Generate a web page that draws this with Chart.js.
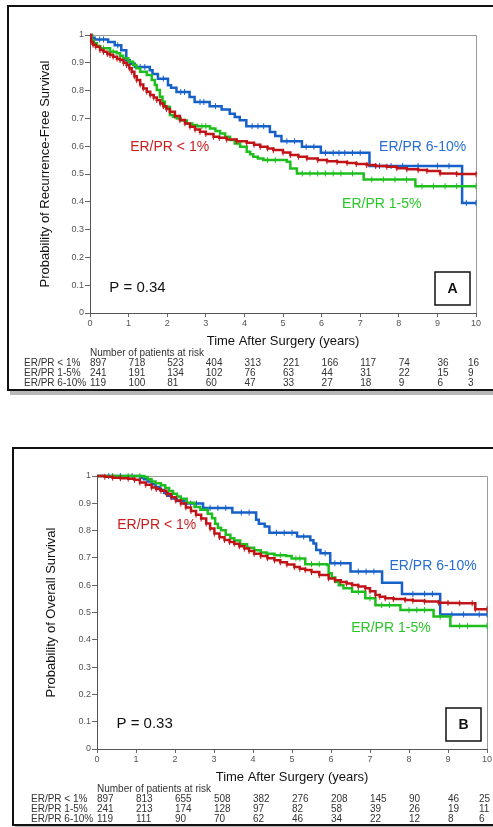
<!DOCTYPE html>
<html>
<head>
<meta charset="utf-8">
<script src="https://cdn.jsdelivr.net/npm/chart.js@4.4.1/dist/chart.umd.min.js"></script>
<style>
html, body { margin: 0; padding: 0; background: #fff; }
#page { position: relative; width: 493px; height: 827px; overflow: hidden; background: #fff; }
.frame { position: absolute; border: 2px solid #111; box-shadow: 3px 4px 0 #b8b8b8; }
#frameA { left: 7px; top: 5px; width: 520px; height: 382px; }
#frameB { left: 12px; top: 447px; width: 520px; height: 375px; }
canvas { position: absolute; left: 0; }
#chartA { top: 0; }
#chartB { top: 400px; }
</style>
</head>
<body>
<div id="page">
  <div class="frame" id="frameA"></div>
  <div class="frame" id="frameB"></div>
  <canvas id="chartA" width="520" height="400"></canvas>
  <canvas id="chartB" width="520" height="427"></canvas>
</div>
<script>
var years = [0, 1, 2, 3, 4, 5, 6, 7, 8, 9, 10];
var groupNames = ['ER/PR < 1%', 'ER/PR 1-5%', 'ER/PR 6-10%'];

// panel A - recurrence-free survival, [years, probability]
var rfsLow = [[0,1],[0.03,.975],[0.08,.965],[0.15,.958],[0.26,.946],[0.35,.94],[0.45,.932],[0.52,.928],[0.6,.922],[0.7,.915],[0.78,.91],[0.87,.9],[0.95,.892],[1.02,.88],[1.08,.868],[1.15,.852],[1.21,.838],[1.3,.822],[1.38,.808],[1.47,.796],[1.56,.784],[1.65,.775],[1.73,.766],[1.82,.754],[1.9,.744],[1.98,.734],[2.07,.724],[2.2,.709],[2.33,.694],[2.46,.682],[2.59,.67],[2.72,.66],[2.85,.652],[3.0,.644],[3.2,.634],[3.35,.63],[3.54,.624],[3.8,.618],[4.06,.612],[4.25,.605],[4.41,.598],[4.6,.592],[4.75,.586],[5.0,.577],[5.19,.568],[5.4,.562],[5.62,.556],[5.9,.55],[6.14,.546],[6.4,.543],[6.66,.54],[6.9,.536],[7.17,.532],[7.4,.529],[7.69,.526],[7.95,.521],[8.21,.517],[8.5,.514],[8.73,.511],[9.07,.502],[9.5,.5],[10,.499]];
var rfsMid = [[0,1],[0.05,.98],[0.1,.97],[0.18,.96],[0.26,.952],[0.35,.952],[0.52,.94],[0.6,.94],[0.69,.934],[0.78,.925],[0.86,.916],[0.99,.904],[1.12,.892],[1.2,.88],[1.3,.868],[1.47,.856],[1.6,.838],[1.68,.82],[1.73,.802],[1.81,.778],[1.88,.76],[1.94,.742],[2.07,.712],[2.15,.706],[2.25,.7],[2.35,.692],[2.51,.682],[2.65,.676],[2.77,.672],[2.9,.672],[3.0,.672],[3.11,.664],[3.25,.655],[3.37,.646],[3.5,.634],[3.63,.622],[3.75,.61],[3.89,.598],[4.06,.58],[4.15,.571],[4.23,.562],[4.35,.556],[4.49,.55],[4.6,.55],[4.8,.55],[5.1,.544],[5.19,.52],[5.36,.502],[5.5,.502],[5.7,.502],[5.9,.502],[6.1,.502],[6.3,.502],[6.5,.502],[6.8,.502],[7.09,.48],[7.3,.48],[7.6,.48],[7.9,.48],[8.2,.48],[8.43,.456],[8.6,.456],[8.9,.456],[9.2,.456],[9.5,.456],[10,.456]];
var rfsHigh = [[0,1],[0.05,.99],[0.12,.984],[0.25,.984],[0.35,.984],[0.47,.975],[0.64,.963],[0.72,.963],[0.81,.945],[0.94,.909],[1.03,.897],[1.16,.885],[1.3,.885],[1.42,.885],[1.55,.873],[1.62,.86],[1.76,.843],[1.9,.843],[2.02,.819],[2.1,.81],[2.24,.795],[2.35,.795],[2.45,.795],[2.58,.777],[2.71,.759],[2.85,.759],[2.95,.759],[3.1,.744],[3.25,.744],[3.41,.732],[3.62,.717],[3.75,.705],[3.88,.693],[4.05,.672],[4.2,.672],[4.35,.672],[4.5,.672],[4.66,.651],[4.8,.637],[4.96,.618],[5.1,.618],[5.3,.618],[5.49,.598],[5.6,.598],[5.8,.598],[5.98,.576],[6.1,.576],[6.3,.576],[6.45,.576],[6.6,.576],[6.8,.576],[7.0,.576],[7.24,.529],[7.5,.529],[7.8,.529],[8.1,.529],[8.5,.529],[9.0,.529],[9.3,.529],[9.64,.396],[9.75,.396],[10,.396]];
var rfsRiskLow = [897, 718, 523, 404, 313, 221, 166, 117, 74, 36, 16];
var rfsRiskMid = [241, 191, 134, 102, 76, 63, 44, 31, 22, 15, 9];
var rfsRiskHigh = [119, 100, 81, 60, 47, 33, 27, 18, 9, 6, 3];

// panel B - overall survival
var osLow = [[0,1],[0.2,.997],[0.4,.994],[0.6,.992],[0.8,.99],[0.96,.986],[1.1,.976],[1.25,.968],[1.4,.958],[1.52,.952],[1.64,.946],[1.78,.934],[1.9,.922],[2.02,.91],[2.15,.899],[2.28,.885],[2.41,.872],[2.54,.858],[2.67,.844],[2.8,.826],[2.9,.808],[3.01,.789],[3.14,.776],[3.27,.766],[3.4,.758],[3.52,.752],[3.65,.743],[3.78,.734],[3.9,.725],[4.03,.715],[4.2,.707],[4.37,.699],[4.55,.691],[4.7,.684],[4.87,.676],[5.06,.667],[5.2,.66],[5.34,.656],[5.5,.648],[5.7,.637],[5.94,.625],[6.1,.618],[6.25,.612],[6.4,.606],[6.54,.601],[6.7,.595],[6.88,.589],[7.0,.578],[7.14,.564],[7.25,.558],[7.39,.552],[7.6,.549],[7.9,.546],[8.1,.543],[8.4,.54],[8.76,.536],[9.0,.535],[9.3,.534],[9.62,.534],[9.7,.512],[10,.512]];
var osMid = [[0,1],[0.4,1],[0.8,1],[1.1,1],[1.21,.996],[1.3,.988],[1.4,.98],[1.5,.973],[1.64,.966],[1.75,.956],[1.85,.945],[1.95,.935],[2.05,.925],[2.15,.917],[2.3,.902],[2.5,.886],[2.65,.876],[2.84,.862],[2.95,.845],[3.03,.825],[3.1,.81],[3.18,.801],[3.3,.785],[3.42,.772],[3.52,.764],[3.67,.75],[3.85,.737],[4.03,.728],[4.2,.72],[4.35,.715],[4.55,.71],[4.7,.71],[4.85,.707],[4.99,.698],[5.1,.698],[5.2,.698],[5.34,.677],[5.5,.677],[5.7,.677],[5.9,.674],[5.94,.644],[6.02,.628],[6.11,.613],[6.2,.6],[6.32,.589],[6.54,.576],[6.7,.576],[6.88,.552],[7.0,.552],[7.14,.527],[7.3,.527],[7.5,.527],[7.78,.509],[8.0,.509],[8.2,.509],[8.4,.509],[8.63,.485],[8.8,.485],[9.06,.451],[9.3,.451],[9.5,.451],[10,.451]];
var osHigh = [[0,1],[0.3,1],[0.6,1],[0.9,1],[1.11,.994],[1.2,.988],[1.3,.98],[1.4,.97],[1.5,.96],[1.62,.949],[1.72,.938],[1.82,.928],[1.92,.918],[2.05,.908],[2.24,.899],[2.4,.899],[2.55,.899],[2.72,.883],[2.9,.883],[3.1,.883],[3.3,.883],[3.47,.866],[3.7,.866],[3.9,.866],[4.08,.84],[4.15,.825],[4.3,.815],[4.42,.792],[4.6,.792],[4.8,.792],[5.0,.792],[5.13,.778],[5.3,.778],[5.47,.765],[5.55,.753],[5.62,.729],[5.73,.717],[5.85,.717],[5.98,.68],[6.1,.68],[6.25,.68],[6.5,.65],[6.7,.65],[6.9,.65],[7.1,.65],[7.31,.609],[7.82,.568],[8.1,.568],[8.4,.568],[8.6,.568],[8.8,.493],[9.1,.493],[9.4,.493],[9.8,.493],[10,.493]];
var osRiskLow = [897, 813, 655, 508, 382, 276, 208, 145, 90, 46, 25];
var osRiskMid = [241, 213, 174, 128, 97, 82, 58, 39, 26, 19, 11];
var osRiskHigh = [119, 111, 90, 70, 62, 46, 34, 22, 12, 8, 6];

var red = 'rgb(192, 20, 24)';
var green = 'rgb(30, 190, 30)';
var blue = 'rgb(22, 96, 200)';
var font = 'Liberation Sans';

function toPoints(arr) {
    return arr.map(function (p) { return { x: p[0], y: p[1] }; });
}

// censor ticks: where the curve does not drop (red has so many they are everywhere)
function censorRadius(ctx) {
    var d = ctx.dataset.data, i = ctx.dataIndex;
    if (i === 0) return 0;
    if (ctx.dataset.markAll) return 3;
    return d[i].y === d[i - 1].y ? 3 : 0;
}

function curve(arr, color, markAll) {
    return {
        data: toPoints(arr),
        borderColor: color,
        backgroundColor: color,
        borderWidth: 2.5,
        stepped: true,
        fill: false,
        clip: 5,
        markAll: markAll,
        pointStyle: 'line',
        rotation: 90,
        pointRadius: censorRadius,
        pointBorderWidth: 1,
        pointBorderColor: color,
        pointHoverRadius: 0
    };
}

var kmExtras = {
    id: 'kmExtras',
    beforeDatasetsDraw: function (chart) {
        var a = chart.chartArea, c = chart.ctx;
        c.save();
        c.strokeStyle = '#9a9a9a';
        c.lineWidth = 1;
        c.beginPath();
        c.moveTo(a.left, Math.round(a.top) + 0.5);
        c.lineTo(Math.round(a.right) + 0.5, Math.round(a.top) + 0.5);
        c.lineTo(Math.round(a.right) + 0.5, a.bottom);
        c.stroke();
        c.restore();
    },
    afterDraw: function (chart, args, opts) {
        var c = chart.ctx, xs = chart.scales.x, ys = chart.scales.y, a = chart.chartArea;
        c.save();
        c.textBaseline = 'middle';
        c.textAlign = 'left';
        c.font = '14px "' + font + '"';
        opts.labels.forEach(function (l) {
            c.fillStyle = l.color;
            c.fillText(l.text, xs.getPixelForValue(l.x), ys.getPixelForValue(l.y));
        });
        c.fillStyle = '#111';
        c.font = '15px "' + font + '"';
        c.fillText(opts.pText, xs.getPixelForValue(0.5), ys.getPixelForValue(0.092));

        // panel letter in its box
        c.strokeStyle = '#111';
        c.lineWidth = 1.5;
        c.strokeRect(a.right - 41, a.bottom - 41, 35, 33);
        c.font = 'bold 14px "' + font + '"';
        c.textAlign = 'center';
        c.fillText(opts.letter, a.right - 23.5, a.bottom - 24);

        // number at risk table
        c.font = '10px "' + font + '"';
        c.fillStyle = '#333';
        c.textAlign = 'left';
        c.fillText('Number of patients at risk', a.left, a.bottom + 40.5);
        opts.risk.forEach(function (row, r) {
            var y = a.bottom + 50 + r * 10;
            c.fillText(groupNames[r], a.left - 66, y);
            row.forEach(function (n, i) {
                var x = xs.getPixelForValue(years[i]);
                if (i === row.length - 1) x -= 8;
                c.fillText(String(n), x, y);
            });
        });
        c.restore();
    }
};

function makeChart(id, sets, yTitle, yWidth, yTitlePad, pad, extras) {
    var ctx = document.getElementById(id).getContext('2d');
    return new Chart(ctx, {
        type: 'line',
        data: {
            datasets: [
                curve(sets[0], red, true),
                curve(sets[1], green, false),
                curve(sets[2], blue, false)
            ]
        },
        plugins: [kmExtras],
        options: {
            responsive: false,
            animation: false,
            devicePixelRatio: 1,
            layout: { padding: pad },
            plugins: {
                legend: { display: false },
                tooltip: { enabled: false },
                kmExtras: extras
            },
            scales: {
                x: {
                    type: 'linear', min: 0, max: 10,
                    ticks: { stepSize: 1, color: '#555', padding: 1, maxRotation: 0, font: { family: font, size: 9 } },
                    grid: { drawOnChartArea: false, tickLength: 4, color: '#666' },
                    border: { color: '#555' },
                    title: { display: true, text: 'Time After Surgery (years)', color: '#111', padding: 0, font: { family: font, size: 13 } },
                    afterFit: function (s) { s.height = 36; s.paddingLeft = 0; s.paddingRight = 0; }
                },
                y: {
                    min: 0, max: 1,
                    ticks: {
                        stepSize: 0.1, color: '#555', padding: 1, font: { family: font, size: 9 },
                        callback: function (v) { return String(Math.round(v * 10) / 10); }
                    },
                    grid: { drawOnChartArea: false, tickLength: 5, color: '#666' },
                    border: { color: '#555' },
                    title: { display: true, text: yTitle, color: '#111', padding: { top: yTitlePad, bottom: 0 }, font: { family: font, size: 13 } },
                    afterFit: function (s) { s.width = yWidth; s.paddingTop = 0; s.paddingBottom = 0; }
                }
            }
        }
    });
}

var chartA = makeChart('chartA', [rfsLow, rfsMid, rfsHigh],
    'Probability of Recurrence-Free Survival', 90, 38,
    { top: 35, right: 44, bottom: 51, left: 0 },
    {
        labels: [
            { text: 'ER/PR < 1%', x: 1.04, y: 0.597, color: 'rgb(200, 30, 30)' },
            { text: 'ER/PR 6-10%', x: 7.49, y: 0.597, color: 'rgb(40, 110, 210)' },
            { text: 'ER/PR 1-5%', x: 6.53, y: 0.391, color: 'rgb(40, 200, 40)' }
        ],
        pText: 'P = 0.34',
        letter: 'A',
        risk: [rfsRiskLow, rfsRiskMid, rfsRiskHigh]
    });

var chartB = makeChart('chartB', [osLow, osMid, osHigh],
    'Probability of Overall Survival', 97, 44,
    { top: 76, right: 33, bottom: 42, left: 0 },
    {
        labels: [
            { text: 'ER/PR < 1%', x: 0.52, y: 0.82, color: 'rgb(200, 30, 30)' },
            { text: 'ER/PR 6-10%', x: 7.5, y: 0.67, color: 'rgb(40, 110, 210)' },
            { text: 'ER/PR 1-5%', x: 6.52, y: 0.443, color: 'rgb(40, 200, 40)' }
        ],
        pText: 'P = 0.33',
        letter: 'B',
        risk: [osRiskLow, osRiskMid, osRiskHigh]
    });
</script>
</body>
</html>
